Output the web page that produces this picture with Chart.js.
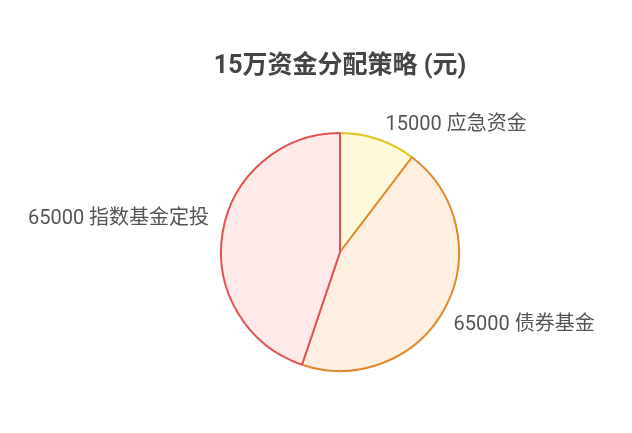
<!DOCTYPE html>
<html>
<head>
<meta charset="utf-8">
<script src="https://cdn.jsdelivr.net/npm/chart.js@4"></script>
<style>
  html, body { margin: 0; padding: 0; background: #fff; overflow: hidden; }
  #wrap { width: 632px; height: 433px; }
</style>
</head>
<body>
<div id="wrap"><canvas id="chart"></canvas></div>
<script>
  // 数据
  const categories = ['应急资金', '债券基金', '指数基金定投'];
  const amounts = [15000, 65000, 65000];
  const fillColors = ['#fff9db', '#ffefe1', '#ffe9e9'];
  const borderColors = ['#e3c41c', '#e0882c', '#e05353'];

  // Beschriftung außerhalb der Tortenstücke
  const outsideLabels = {
    id: 'outsideLabels',
    afterDatasetsDraw(chart) {
      const ctx = chart.ctx;
      const meta = chart.getDatasetMeta(0);
      ctx.save();
      ctx.font = '20px Roboto, "Noto Sans CJK SC", sans-serif';
      ctx.fillStyle = '#555';
      ctx.textBaseline = 'middle';
      meta.data.forEach((arc, i) => {
        const { x, y, startAngle, endAngle, outerRadius } = arc.getProps(['x', 'y', 'startAngle', 'endAngle', 'outerRadius'], true);
        // etwas hinter der Mitte des Bogens
        const a = startAngle + (endAngle - startAngle) * 0.53;
        const r = outerRadius + 16;
        const px = x + Math.cos(a) * r;
        const py = y + Math.sin(a) * r;
        ctx.textAlign = Math.cos(a) >= 0 ? 'left' : 'right';
        ctx.fillText(amounts[i] + ' ' + categories[i], px, py);
      });
      ctx.restore();
    }
  };

  new Chart(document.getElementById('chart'), {
    type: 'pie',
    data: {
      labels: categories,
      datasets: [{
        data: amounts,
        backgroundColor: fillColors,
        borderColor: borderColors,
        borderWidth: 2
      }]
    },
    options: {
      responsive: true,
      maintainAspectRatio: false,
      animation: false,
      layout: { padding: { left: 48, top: 0, bottom: 61 } },
      plugins: {
        legend: { display: false },
        tooltip: { enabled: false },
        title: {
          display: true,
          text: '15万资金分配策略 (元)',
          color: '#444',
          font: { family: 'Roboto, "Noto Sans CJK SC", sans-serif', size: 25, weight: 'bold' },
          padding: { top: 52, bottom: 50 }
        }
      }
    },
    plugins: [outsideLabels]
  });
</script>
</body>
</html>
